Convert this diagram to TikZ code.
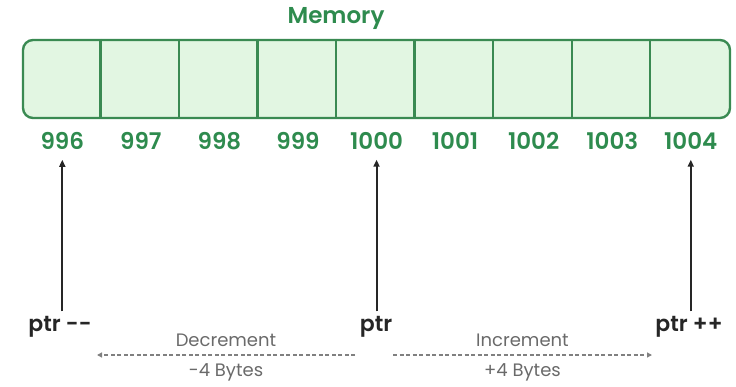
\documentclass[tikz,border=0pt]{standalone}
\usepackage{fontspec}
\setmainfont{Poppins}
\newfontfamily\medfont{Poppins SemiBold}
\usetikzlibrary{arrows.meta, positioning}
\definecolor{memgreen}{HTML}{3A8A52}
\definecolor{memfill}{HTML}{E2F6E2}
\definecolor{addrgreen}{HTML}{2E8B4E}
\definecolor{dashgray}{HTML}{808080}
\definecolor{textgray}{HTML}{6A6A6A}

\begin{document}
\begin{tikzpicture}[x=1pt, y=-1pt]
	\tikzset{memory/.style={draw=memgreen, fill=memfill, line width=2.4pt, rounded corners=10pt, minimum width=707pt, minimum height=78pt, inner sep=0pt},
		addr/.style={text=addrgreen, font=\fontsize{23}{27}\medfont, inner sep=1pt},
		ptr/.style={text=black!85, font=\fontsize{22}{26}\medfont, inner sep=1pt},
		note/.style={text=textgray, font=\fontsize{18}{22}\selectfont, inner sep=1pt},
		ptrarrow/.style={-{Triangle[length=7pt, width=6pt]}, line width=2pt, black!85},
		dasharrow/.style={-{Triangle[length=5pt, width=5pt]}, line width=1.5pt, dashgray, dash pattern=on 4pt off 2.5pt} }
	\useasboundingbox (0,0) rectangle (736,387);

	% memory block
	\node[addr] (title) at (336,18) {Memory};
	\node[memory] (mem) at (376.5,79) {};
	\foreach \i in {1,...,8}
		\draw[memgreen, line width=2.4pt] ([xshift=\i*78.56pt]mem.north west) -- ([xshift=\i*78.56pt]mem.south west);

	% addresses
	\foreach \a [count=\i from 0] in {996,997,998,999,1000,1001,1002,1003,1004}
		\node[addr] (a\i) at (62.3+\i*78.56, 141) {\a};

	% pointers
	\node[ptr] (dec) at (60,327) {ptr -{}-};
	\node[ptr] (cur) at (376,327) {ptr};
	\node[ptr] (inc) at (689,327) {ptr ++};

	\draw[ptrarrow, shorten >=9pt, shorten <=4pt] (dec.north -| a0.south) -- (a0.south);
	\draw[ptrarrow, shorten >=9pt, shorten <=4pt] (cur.north -| a4.south) -- (a4.south);
	\draw[ptrarrow, shorten >=9pt, shorten <=4pt] (inc.north -| a8.south) -- (a8.south);

	% steps
	\coordinate (dl) at (97,355);
	\coordinate (dr) at (355,355);
	\coordinate (il) at (393,355);
	\coordinate (ir) at (652,355);
	\draw[dasharrow] (dr) -- (dl)
		node[note, midway, above=7pt] (dectxt) {Decrement}
		node[note, midway, below=7pt] (decbytes) {-4 Bytes};
	\draw[dasharrow] (il) -- (ir)
		node[note, midway, above=7pt] (inctxt) {Increment}
		node[note, midway, below=7pt] (incbytes) {+4 Bytes};
\end{tikzpicture}
\end{document}
